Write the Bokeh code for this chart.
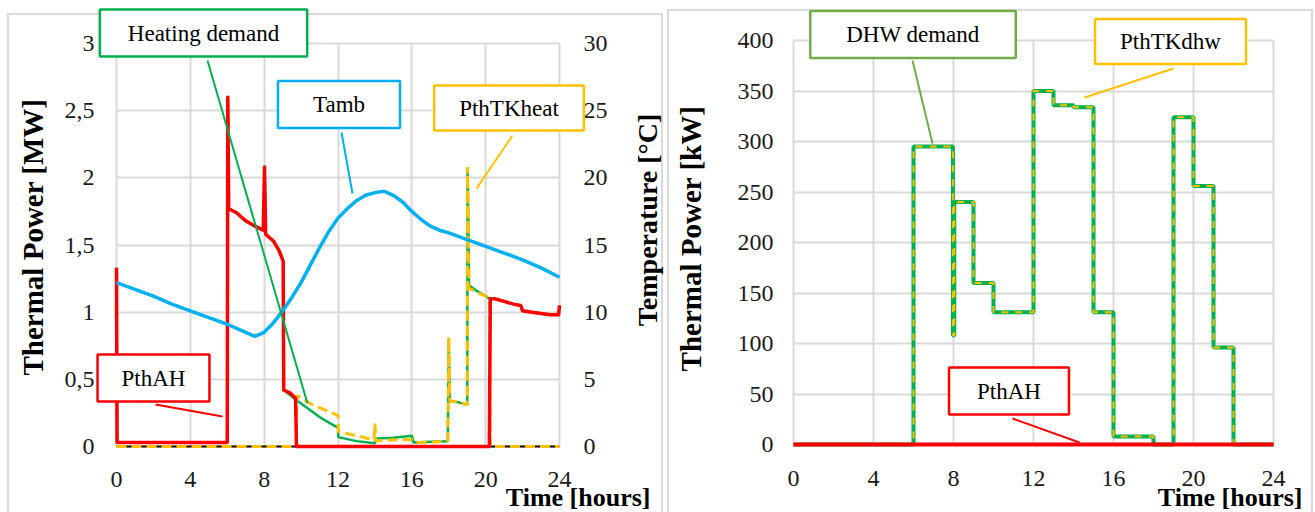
from bokeh.plotting import figure
from bokeh.models import Range1d, LinearAxis, FixedTicker, CustomJSTickFormatter, Label
from bokeh.layouts import row
from bokeh.embed import file_html
from bokeh.resources import INLINE

# ---------------- data: left panel (space heating) ----------------
hour_ticks = [0, 4, 8, 12, 16, 20, 24]
mw_ticks = [0, 0.5, 1, 1.5, 2, 2.5, 3]
temp_ticks = [0, 5, 10, 15, 20, 25, 30]
kw_ticks = [0, 50, 100, 150, 200, 250, 300, 350, 400]

pthah_t = [0, 0.03, 6.0, 6.03, 6.08, 6.5, 7.0, 7.5, 7.95, 8.02,
           8.08, 8.5, 8.8, 9.03, 9.06, 9.4, 9.7, 9.75, 20.2, 20.25,
           20.5, 21.0, 21.5, 21.9, 22.0, 22.5, 23.0, 23.5, 23.95, 24.0]
pthah_mw = [1.33, 0.03, 0.03, 2.6, 1.77, 1.74, 1.68, 1.64, 1.61, 2.08,
            1.58, 1.53, 1.46, 1.38, 0.42, 0.40, 0.36, 0.0, 0.0, 1.10,
            1.10, 1.08, 1.06, 1.05, 1.01, 1.0, 0.99, 0.98, 0.98, 1.05]

heat_t = [0, 0.03, 6.0, 6.03, 6.08, 6.5, 7.0, 7.5, 7.95, 8.02,
          8.08, 8.5, 8.8, 9.03, 9.06, 9.6, 10.0, 11.0, 11.6, 12.0,
          12.02, 13.0, 14.0, 14.05, 15.0, 16.0, 16.1, 17.0, 17.95, 18.0,
          18.05, 18.5, 19.0, 19.02, 19.1, 19.5, 20.0, 20.2, 20.25, 20.5,
          21.0, 21.5, 21.9, 22.0, 22.5, 23.0, 23.5, 23.95, 24.0]
heat_mw = [1.33, 0.03, 0.03, 2.6, 1.77, 1.74, 1.68, 1.64, 1.61, 2.08,
           1.58, 1.53, 1.46, 1.38, 0.42, 0.36, 0.32, 0.22, 0.17, 0.14,
           0.07, 0.04, 0.025, 0.06, 0.065, 0.08, 0.03, 0.035, 0.04, 0.81,
           0.34, 0.33, 0.31, 2.08, 1.2, 1.16, 1.12, 1.10, 1.10, 1.10,
           1.08, 1.06, 1.05, 1.01, 1.0, 0.99, 0.98, 0.98, 1.05]

tk_t = [0, 9.75, 9.77, 10.5, 11.5, 12.0, 12.02, 13.0, 13.95, 14.0,
        14.05, 15.0, 16.0, 16.2, 17.0, 17.95, 18.0, 18.05, 18.5, 19.0,
        19.02, 19.1, 19.5, 20.0, 20.2, 20.25, 24.0]
tk_mw = [0, 0, 0.38, 0.32, 0.26, 0.23, 0.11, 0.08, 0.05, 0.17,
         0.04, 0.05, 0.05, 0.03, 0.03, 0.04, 0.81, 0.34, 0.33, 0.31,
         2.08, 1.18, 1.15, 1.12, 1.10, 0.0, 0.0]

tamb_t = [0, 1, 2, 3, 4, 5, 6, 7, 7.5, 8, 8.5, 9, 9.5, 10, 10.5, 11, 11.5, 12,
          12.5, 13, 13.5, 14, 14.5, 15, 15.5, 16, 16.5, 17, 17.5, 18,
          19, 20, 21, 22, 23, 24]
tamb_c = [12.2, 11.7, 11.2, 10.6, 10.1, 9.6, 9.1, 8.5, 8.2, 8.5, 9.2, 10.1, 11.1, 12.2,
          13.5, 14.8, 16.0, 17.0, 17.7, 18.3, 18.7, 18.9, 19.0, 18.7, 18.2, 17.5,
          16.9, 16.4, 16.1, 15.9, 15.4, 14.9, 14.4, 13.9, 13.3, 12.6]

# ---------------- data: right panel (DHW) ----------------
dhw_t = [0, 6, 7.97, 8.04, 9, 10, 12, 13, 14, 15, 16, 18, 19, 20, 21, 22, 24]
dhw_kw = [0, 295, 108, 240, 160, 131, 350, 336, 334, 131, 8, 0, 324, 256, 96, 0, 0]
tkdhw_t = [0, 6, 7.97, 8.04, 9, 10, 12, 13, 14, 15, 16, 18, 19, 20, 21, 22, 24]
tkdhw_kw = [0, 295, 108, 240, 160, 131, 350, 336, 334, 131, 8, 0, 324, 256, 96, 0, 0]
pthah2_t = [0, 24]
pthah2_kw = [0, 0]

# ---------------- styling / layout ----------------
FONT = "Liberation Serif"
GRID = "#d9d9d9"
RED = "#ff0000"
GREEN = "#00b050"
LGREEN = "#70ad47"
YELLOW = "#ffc000"
BLUE = "#00b0f0"
TICK_COLOR = "#1a1a1a"
TICK_SIZE = "24px"
H = 512
L_W, R_W = 664, 651          # widths of the two panels
R_OFF = L_W                  # page x of the right panel


class Mapper:
    """Convert page pixel positions into the data units of one panel."""
    def __init__(self, off, x0, x24, y0, ytop, vtop):
        self.off = off
        self.x0 = x0
        self.sx = (x24 - x0) / 24.0
        self.y0 = y0
        self.sy = (y0 - ytop) / float(vtop)

    def x(self, px):
        return (px - self.x0) / self.sx

    def y(self, py):
        return (self.y0 - py) / self.sy

    def xr(self, width):
        return Range1d(self.x(self.off), self.x(self.off + width))

    def yr(self):
        return Range1d(self.y(H), self.y(0))


ML = Mapper(0, 116, 559, 446, 43, 3)        # left panel plot area
MR = Mapper(R_OFF, 793, 1273, 444, 40, 400)  # right panel plot area


def panel_bg(left_x, top, right_x):
    g = f"linear-gradient({GRID},{GRID})"
    return {
        "background": (
            f"{g} {left_x}px {top}px / 2px 100% no-repeat, "
            f"{g} {left_x}px {top}px / {right_x - left_x + 2}px 2px no-repeat, "
            f"{g} {right_x}px {top}px / 2px 100% no-repeat, #ffffff"
        )
    }


def style_axis(ax, ticks, bounds, loc, standoff):
    ax.ticker = FixedTicker(ticks=ticks)
    ax.bounds = bounds
    ax.fixed_location = loc
    ax.axis_line_color = None
    ax.major_tick_line_color = None
    ax.minor_tick_line_color = None
    ax.major_tick_out = 0
    ax.major_tick_in = 0
    ax.major_label_standoff = standoff
    ax.major_label_text_font = FONT
    ax.major_label_text_font_size = TICK_SIZE
    ax.major_label_text_color = TICK_COLOR


def style_grid(p, xb, yb):
    xg, yg = p.xgrid[0], p.ygrid[0]
    xg.ticker = FixedTicker(ticks=hour_ticks)
    yg.ticker = p.yaxis[0].ticker
    xg.bounds = xb
    yg.bounds = yb
    xg.cross_bounds = yb
    yg.cross_bounds = xb
    for g in (xg, yg):
        g.grid_line_color = GRID
        g.grid_line_width = 2


def callout(p, m, cx, cy, text, color, padx, pady):
    p.add_layout(Label(x=m.x(cx), y=m.y(cy), text=text, text_align="center", text_baseline="middle",
                       text_font=FONT, text_font_size="23px", text_color="#000000",
                       background_fill_color="#ffffff", border_line_color=color,
                       border_line_width=2.5, padding=dict(x=padx, y=pady), level="overlay"))


def leader(p, m, x0, y0, x1, y1, color):
    p.segment(x0=[m.x(x0)], y0=[m.y(y0)], x1=[m.x(x1)], y1=[m.y(y1)],
              line_color=color, line_width=2, level="annotation")


def title_label(p, m, cx, cy, text, size, angle=0, align="center"):
    p.add_layout(Label(x=m.x(cx), y=m.y(cy), text=text, angle=angle, angle_units="deg",
                       text_align=align, text_baseline="middle", text_font=FONT,
                       text_font_size=size, text_font_style="bold", text_color="#000000",
                       level="overlay"))


# ================= left figure =================
p1 = figure(width=L_W, height=H, x_range=ML.xr(L_W), y_range=ML.yr(),
            output_backend="svg", toolbar_location=None, title=None, min_border=0,
            border_fill_alpha=0, background_fill_alpha=0, outline_line_color=None,
            styles=panel_bg(7, 13, 661))
yr1 = p1.y_range
p1.extra_y_ranges = {"temp": Range1d(yr1.start * 10, yr1.end * 10)}

style_axis(p1.xaxis[0], hour_ticks, (0, 24), 0, 25)
p1.xaxis[0].axis_line_color = "#000000"
p1.xaxis[0].axis_line_width = 2
style_axis(p1.yaxis[0], mw_ticks, (0, 3), 0, 22)
p1.yaxis[0].formatter = CustomJSTickFormatter(code="return tick.toString().replace('.', ',');")

ax_t = LinearAxis(y_range_name="temp")
style_axis(ax_t, temp_ticks, (0, 30), 24, 24)
p1.add_layout(ax_t, "right")
style_grid(p1, (0, 24), (0, 3))

p1.line(heat_t, heat_mw, line_color=GREEN, line_width=2.5, level="annotation")
p1.line(tk_t, tk_mw, line_color=YELLOW, line_width=3, line_dash="10 5", level="annotation")
p1.line(pthah_t, pthah_mw, line_color=RED, line_width=3.5, line_join="round", level="annotation")
p1.line(tamb_t, tamb_c, line_color=BLUE, line_width=3.5, line_join="round",
        y_range_name="temp", level="annotation")

leader(p1, ML, 207, 60, 307, 403, GREEN)
leader(p1, ML, 341, 132, 352, 193, BLUE)
leader(p1, ML, 512, 135, 476, 188, YELLOW)
leader(p1, ML, 155, 404, 222, 416, RED)

callout(p1, ML, 203, 32.5, "Heating demand", GREEN, 28, 11)
callout(p1, ML, 338.5, 104, "Tamb", BLUE, 35, 11)
callout(p1, ML, 508.5, 107.5, "PthTKheat", YELLOW, 25, 10)
callout(p1, ML, 153, 377.5, "PthAH", RED, 24, 11)

title_label(p1, ML, 32, 236.5, "Thermal Power [MW]", "29px", angle=90)
title_label(p1, ML, 647, 219.5, "Temperature [°C]", "28px", angle=90)
title_label(p1, ML, 650, 497, "Time [hours]", "26px", align="right")

# ================= right figure =================
p2 = figure(width=R_W, height=H, x_range=MR.xr(R_W), y_range=MR.yr(),
            output_backend="svg", toolbar_location=None, title=None, min_border=0,
            border_fill_alpha=0, background_fill_alpha=0, outline_line_color=None,
            styles=panel_bg(3, 9, 647))

style_axis(p2.xaxis[0], hour_ticks, (0, 24), 0, 26)
p2.xaxis[0].axis_line_color = "#000000"
p2.xaxis[0].axis_line_width = 2
style_axis(p2.yaxis[0], kw_ticks, (0, 400), 0, 20)
style_grid(p2, (0, 24), (0, 400))

p2.step(dhw_t, dhw_kw, mode="after", line_color=GREEN, line_width=4, level="annotation")
p2.step(tkdhw_t, tkdhw_kw, mode="after", line_color=YELLOW, line_width=2, line_dash="7 7",
        level="annotation")
p2.line(pthah2_t, pthah2_kw, line_color=RED, line_width=4, level="annotation")

leader(p2, MR, 912, 60, 932, 143, LGREEN)
leader(p2, MR, 1173, 68, 1084, 97, YELLOW)
leader(p2, MR, 1012, 418, 1079, 442, RED)

callout(p2, MR, 912.5, 34, "DHW demand", LGREEN, 36, 11)
callout(p2, MR, 1170, 41, "PthTKdhw", YELLOW, 25, 10)
callout(p2, MR, 1008.5, 390.5, "PthAH", RED, 28, 11)

title_label(p2, MR, 690, 238, "Thermal Power [kW]", "29px", angle=90)
title_label(p2, MR, 1302, 497, "Time [hours]", "26px", align="right")

layout = row(p1, p2)
open("out.html", "w").write(file_html(layout, INLINE))
